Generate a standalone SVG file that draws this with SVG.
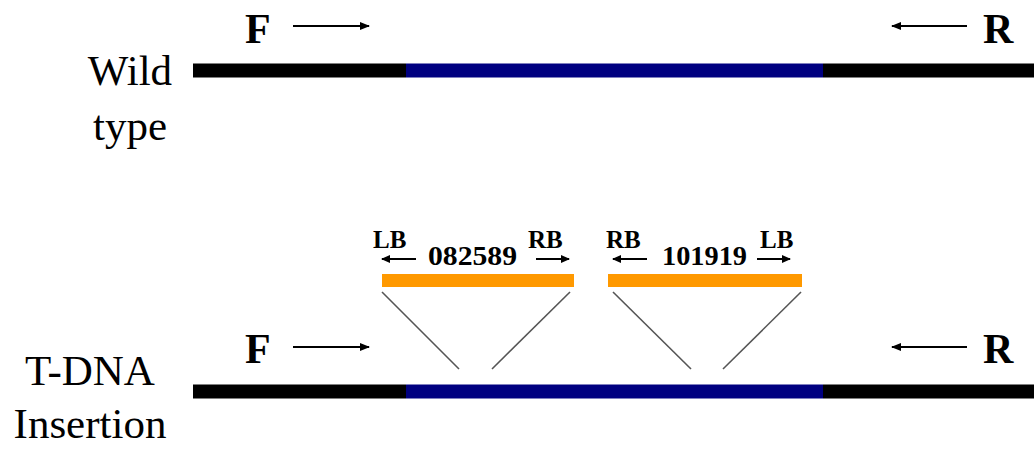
<svg xmlns="http://www.w3.org/2000/svg" width="1034" height="450" viewBox="0 0 1034 450">
<style>
.lbl{font-family:"Liberation Serif","Times New Roman",serif;font-size:43px;fill:#000}
.pr{font-family:"Liberation Serif","Times New Roman",serif;font-size:42px;font-weight:bold;fill:#000}
.sm{font-family:"Liberation Serif","Times New Roman",serif;font-size:25px;font-weight:bold;fill:#000}
.num{font-family:"Liberation Serif","Times New Roman",serif;font-size:27px;font-weight:bold;fill:#000}
.arr{stroke:#000;stroke-width:2;fill:none;marker-end:url(#ah)}
.arrs{stroke:#000;stroke-width:1.8;fill:none;marker-end:url(#ahs)}
.lnk{stroke:#555;stroke-width:1.6}
</style>
<defs>
<marker id="ah" markerWidth="10" markerHeight="8" refX="9" refY="4" orient="auto" markerUnits="userSpaceOnUse">
<path d="M0,0 L10,4 L0,8 Z" fill="#000"/>
</marker>
<marker id="ahs" markerWidth="9" markerHeight="8" refX="8" refY="4" orient="auto" markerUnits="userSpaceOnUse">
<path d="M0,0 L9,4 L0,8 Z" fill="#000"/>
</marker>
</defs>
<rect width="1034" height="450" fill="#fff"/>

<g id="wildtype">
<text class="lbl" x="130" y="85" text-anchor="middle">Wild</text>
<text class="lbl" x="130" y="140" text-anchor="middle">type</text>
<rect x="193" y="63.5" width="213" height="14" fill="#000"/>
<rect x="406" y="63.5" width="417" height="14" fill="#000080"/>
<rect x="823" y="63.5" width="211" height="14" fill="#000"/>
</g>

<g id="primers-wt">
<text class="pr" x="245" y="43">F</text>
<text class="pr" x="983" y="43">R</text>
</g>

<g id="tdna">
<text class="lbl" x="90" y="385" text-anchor="middle">T-DNA</text>
<text class="lbl" x="90" y="438" text-anchor="middle">Insertion</text>
<rect x="193" y="384.5" width="213" height="14" fill="#000"/>
<rect x="406" y="384.5" width="417" height="14" fill="#000080"/>
<rect x="823" y="384.5" width="211" height="14" fill="#000"/>
</g>

<g id="primers-tdna">
<text class="pr" x="245" y="363">F</text>
<text class="pr" x="983" y="363">R</text>
</g>

<g id="insert-082589">
<rect x="382" y="274" width="192" height="13" fill="#ff9900"/>
<text class="sm" x="373" y="248">LB</text>
<text class="sm" x="528" y="248">RB</text>
<text class="num" x="428" y="265" textLength="89" lengthAdjust="spacingAndGlyphs">082589</text>
</g>

<g id="insert-101919">
<rect x="608" y="274" width="194" height="13" fill="#ff9900"/>
<text class="sm" x="606" y="248">RB</text>
<text class="sm" x="760" y="248">LB</text>
<text class="num" x="662" y="265" textLength="85" lengthAdjust="spacingAndGlyphs">101919</text>
</g>

<g id="connectors">
<line class="arr" x1="293" y1="26" x2="369" y2="26"/>
<line class="arr" x1="967" y1="26" x2="892" y2="26"/>
<line class="arr" x1="293" y1="347" x2="369" y2="347"/>
<line class="arr" x1="967" y1="347" x2="892" y2="347"/>
<line class="arrs" x1="416" y1="259" x2="382" y2="259"/>
<line class="arrs" x1="536" y1="259" x2="569" y2="259"/>
<line class="arrs" x1="647" y1="259" x2="613" y2="259"/>
<line class="arrs" x1="757" y1="259" x2="790" y2="259"/>
<line class="lnk" x1="382" y1="292" x2="459" y2="369"/>
<line class="lnk" x1="570" y1="292" x2="492" y2="369"/>
<line class="lnk" x1="613" y1="292" x2="691" y2="369"/>
<line class="lnk" x1="801" y1="292" x2="723" y2="369"/>
</g>
</svg>
